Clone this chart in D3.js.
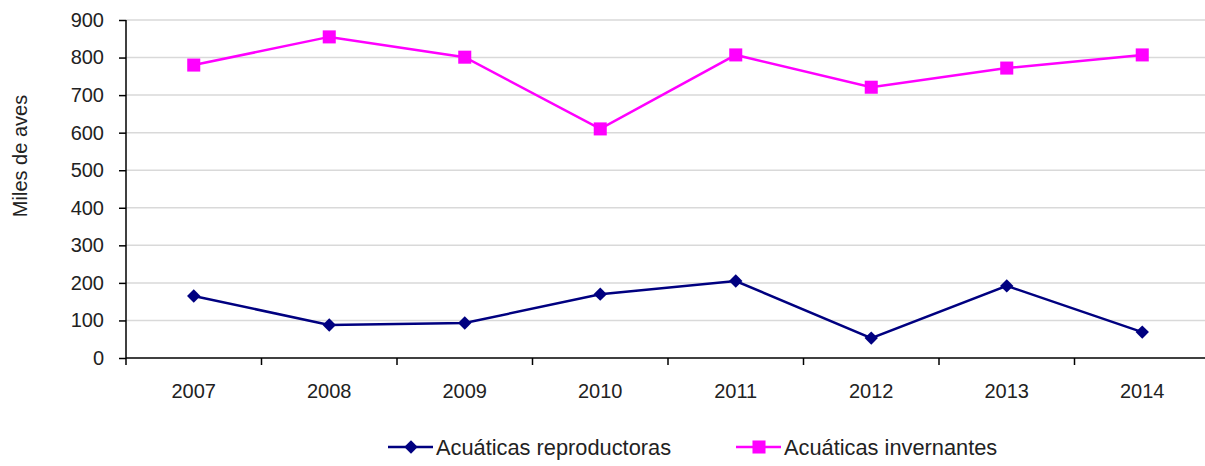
<!DOCTYPE html>
<html>
<head>
<meta charset="utf-8">
<script src="https://cdn.jsdelivr.net/npm/d3@7"></script>
<style>
  body { margin: 0; background: #fff; }
  text { font-family: "Liberation Sans", Arial, sans-serif; }
</style>
</head>
<body>
<svg id="chart" width="1205" height="466"></svg>
<script>
var years = ["2007", "2008", "2009", "2010", "2011", "2012", "2013", "2014"]
var reproductoras = [165, 88, 93, 170, 205, 53, 192, 69]
var invernantes = [780, 855, 801, 610, 807, 721, 772, 807]
var yTicks = [0, 100, 200, 300, 400, 500, 600, 700, 800, 900]

var plotLeft = 126, plotRight = 1210, plotTop = 20, plotBottom = 358

var svg = d3.select("#chart")

var x = d3.scaleBand()
    .domain(years)
    .range([plotLeft, plotRight])

var y = d3.scaleLinear()
    .domain([0, 900])
    .range([plotBottom, plotTop])

// gridlines
svg.append("g")
    .selectAll("line")
    .data(yTicks.slice(1))
    .enter()
    .append("line")
    .attr("x1", plotLeft)
    .attr("x2", plotRight)
    .attr("y1", function (d) { return y(d) })
    .attr("y2", function (d) { return y(d) })
    .attr("stroke", "#d9d9d9")
    .attr("stroke-width", 1.5)

// y axis
var yAxis = svg.append("g")
    .attr("transform", "translate(" + plotLeft + ",0)")
    .call(d3.axisLeft(y).tickValues(yTicks).tickSize(7).tickPadding(15))
yAxis.selectAll("text").style("font-size", "20px").attr("fill", "#222")
yAxis.select(".domain").attr("d", "M0," + plotTop + "V" + plotBottom).attr("stroke", "#000").attr("stroke-width", 1.5)
yAxis.selectAll(".tick line").attr("stroke", "#000").attr("stroke-width", 1.5)

// x axis, ticks between categories
var xAxis = svg.append("g")
    .attr("transform", "translate(0," + plotBottom + ")")
xAxis.append("line")
    .attr("x1", plotLeft).attr("x2", plotRight)
    .attr("stroke", "#000").attr("stroke-width", 1.5)
xAxis.selectAll(".sep")
    .data(years)
    .enter()
    .append("line")
    .attr("class", "sep")
    .attr("x1", function (d) { return x(d) })
    .attr("x2", function (d) { return x(d) })
    .attr("y1", 0).attr("y2", 7)
    .attr("stroke", "#000").attr("stroke-width", 1.5)
xAxis.selectAll(".lbl")
    .data(years)
    .enter()
    .append("text")
    .attr("class", "lbl")
    .attr("x", function (d) { return x(d) + x.bandwidth() / 2 })
    .attr("y", 40)
    .attr("text-anchor", "middle")
    .style("font-size", "20px")
    .attr("fill", "#222")
    .text(function (d) { return d })

// axis title
svg.append("text")
    .attr("transform", "translate(27,156) rotate(-90)")
    .attr("text-anchor", "middle")
    .style("font-size", "20px")
    .attr("fill", "#222")
    .text("Miles de aves")

var line = d3.line()
    .x(function (d, i) { return x(years[i]) + x.bandwidth() / 2 })
    .y(function (d) { return y(d) })

var series = [
    { name: "Acuáticas reproductoras", values: reproductoras, color: "#000080", rot: 45, size: 90 },
    { name: "Acuáticas invernantes", values: invernantes, color: "#ff00ff", rot: 0, size: 170 }
]

var marker = function (s) { return d3.symbol().type(d3.symbolSquare).size(s.size)() }

series.forEach(function (s) {
    svg.append("path")
        .datum(s.values)
        .attr("d", line)
        .attr("fill", "none")
        .attr("stroke", s.color)
        .attr("stroke-width", 2.5)

    svg.selectAll(null)
        .data(s.values)
        .enter()
        .append("path")
        .attr("transform", function (d, i) {
            return "translate(" + (x(years[i]) + x.bandwidth() / 2) + "," + y(d) + ") rotate(" + s.rot + ")"
        })
        .attr("d", marker(s))
        .attr("fill", s.color)
})

// legend
var legendX = [388, 736]
series.forEach(function (s, i) {
    var g = svg.append("g").attr("transform", "translate(" + legendX[i] + ",447)")
    g.append("line").attr("x1", 0).attr("x2", 45)
        .attr("stroke", s.color).attr("stroke-width", 2.5)
    g.append("path")
        .attr("transform", "translate(23,0) rotate(" + s.rot + ")")
        .attr("d", marker(s))
        .attr("fill", s.color)
    g.append("text")
        .attr("x", 48).attr("y", 8)
        .style("font-size", "21.8px")
        .attr("fill", "#222")
        .text(s.name)
})
</script>
</body>
</html>
